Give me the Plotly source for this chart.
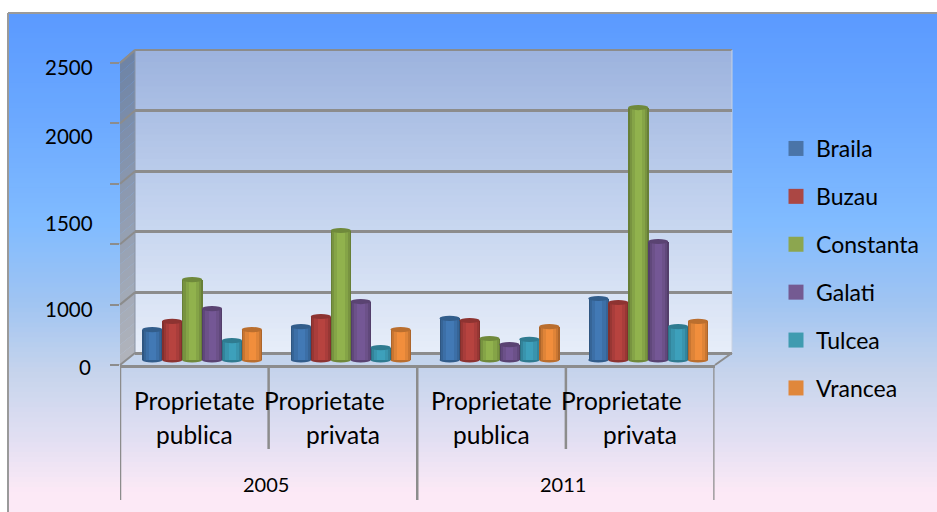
import plotly.graph_objects as go

W, H = 937, 512
years = ["2005", "2011"]
ownership = ["Proprietate publica", "Proprietate privata", "Proprietate publica", "Proprietate privata"]
series_names = ["Braila", "Buzau", "Constanta", "Galati", "Tulcea", "Vrancea"]
braila = [252, 277, 344, 509]
buzau = [319, 360, 327, 476]
constanta = [666, 1072, 178, 2090]
galati = [426, 484, 128, 981]
tulcea = [161, 103, 170, 277]
vrancea = [252, 252, 277, 319]
series_values = [braila, buzau, constanta, galati, tulcea, vrancea]
series_colors = ["#3f74ae", "#b0403d", "#8bab4a", "#70548f", "#3b9ab4", "#e8893a"]
legend_colors = ["#4a74a8", "#ab4744", "#8ca64f", "#745a92", "#3f9bb0", "#e0873b"]
value_ticks = [2500, 2000, 1500, 1000, 0]
FONT = "Lato, Carlito, Calibri, sans-serif"
INK = "#000000"
GREY = "#8c8c8c"


def X(p):
    return p / W


def Y(p):
    return 1 - p / H


def hex2rgb(c):
    return tuple(int(c[i:i + 2], 16) for i in (1, 3, 5))


def mix(stops, t):
    for (t0, c0), (t1, c1) in zip(stops, stops[1:]):
        if t <= t1:
            f = 0 if t1 == t0 else max(0, (t - t0) / (t1 - t0))
            a, b = hex2rgb(c0), hex2rgb(c1)
            return "rgb(%d,%d,%d)" % tuple(round(a[i] + (b[i] - a[i]) * f) for i in range(3))
    return stops[-1][1]


def shade(c, f):
    r = hex2rgb(c)
    return "rgb(%d,%d,%d)" % tuple(min(255, round(v * f)) for v in r)


def poly(pts, fill):
    d = "M" + " L".join("%.5f,%.5f" % (X(a), Y(b)) for a, b in pts) + " Z"
    return dict(type="path", path=d, xref="paper", yref="paper", fillcolor=fill,
                line=dict(width=0), layer="below")


def seg(x0, y0, x1, y1, color=GREY, width=2, layer="below"):
    return dict(type="line", xref="paper", yref="paper", x0=X(x0), y0=Y(y0), x1=X(x1), y1=Y(y1),
                line=dict(color=color, width=width), layer=layer)


shapes = []
# page background
bg = [(13, "#5b9aff"), (110, "#6aa8ff"), (220, "#80bbff"), (300, "#a0c4f2"), (370, "#c6d4ec"),
      (430, "#dfdef2"), (490, "#fce9f6"), (512, "#fce9f6")]
for i in range(100):
    a = 13 + (512 - 13) * i / 100
    b = 13 + (512 - 13) * (i + 1) / 100
    shapes.append(poly([(9, a), (W, a), (W, b + 1), (9, b + 1)], mix(bg, a)))
# back wall
wall = [(50, "#9db3de"), (200, "#c2d2ee"), (353, "#e8eef9")]
for i in range(50):
    a = 50 + 303 * i / 50
    b = 50 + 303 * (i + 1) / 50
    shapes.append(poly([(135, a), (732, a), (732, b + 1), (135, min(b + 1, 353))], mix(wall, a)))
# side wall
side = [(0, "#6f84a6"), (1, "#b2b5bc")]
for i in range(30):
    t0, t1 = i / 30, (i + 1) / 30
    shapes.append(poly([(120, 63 + 302 * t0), (135, 50 + 303 * t0), (135, 50 + 303 * t1),
                        (120, 63 + 302 * t1)], mix(side, t0)))
# floor
shapes.append(poly([(120, 365), (135, 353), (732, 353), (715, 365)], "#c4d4ec"))
shapes.append(seg(135, 50, 732, 50, width=2))
shapes.append(seg(120, 63, 135, 50, width=2))
shapes.append(seg(135, 50, 135, 353, color="#8a94a5", width=1))
shapes.append(seg(732, 50, 732, 353, color="#c8d2e2", width=1))
shapes.append(seg(715, 365, 732, 353, width=2))
for k in range(6):
    shapes.append(seg(120, 365 - 60.4 * k, 135, 353 - 60.6 * k, width=2))
# frame
shapes.append(seg(8, 13, W, 13, color="#9a9a9a", width=2))
shapes.append(seg(8, 13, 8, H, color="#9a9a9a", width=2))

# category dividers, on the front axis
for pos, low in [(-0.5, 500), (0.5, 449), (1.5, 500), (2.5, 449), (3.5, 500)]:
    shapes.append(dict(type="line", xref="x3", yref="paper", x0=pos, x1=pos, y0=Y(365), y1=Y(low),
                       line=dict(color=GREY, width=2.5), layer="above"))

fig = go.Figure()

# legend entries (they also hold the wall subplot)
for name, col in zip(series_names, legend_colors):
    fig.add_trace(go.Scatter(x=[None], y=[None], mode="markers", name=name, legendgroup=name,
                             marker=dict(symbol="square", size=15, color=col), xaxis="x", yaxis="y"))

# cylinders
STEP = 0.134
BAR = 0.136
levels = [(1.0, 0.74), (0.88, 0.86), (0.68, 0.96), (0.36, 1.04)]
Y_UNIT = 0.1208
ELL = 2.6 / Y_UNIT
x_groups = list(range(len(ownership)))
for s, (name, vals, col) in enumerate(zip(series_names, series_values, series_colors)):
    centre = (s - 2.5) * STEP
    for frac, f in levels:
        fig.add_trace(go.Bar(x=x_groups, y=vals, width=BAR * frac, offset=centre - BAR * frac / 2,
                             marker=dict(color=shade(col, f), line=dict(width=0)),
                             name=name, legendgroup=name, showlegend=False, hoverinfo="skip" if frac != 1.0 else None,
                             xaxis="x2", yaxis="y2"))
    for g, v in zip(x_groups, vals):
        xa, xb = g + centre - BAR / 2, g + centre + BAR / 2
        shapes.append(dict(type="circle", xref="x2", yref="y2", x0=xa, x1=xb, y0=-ELL, y1=ELL,
                           fillcolor=shade(col, 0.8), line=dict(width=0), layer="between"))
        shapes.append(dict(type="circle", xref="x2", yref="y2", x0=xa, x1=xb, y0=v - ELL, y1=v + ELL,
                           fillcolor=shade(col, 0.8), line=dict(width=0), layer="above"))

# front axis holder
fig.add_trace(go.Scatter(x=[None], y=[None], showlegend=False, hoverinfo="skip", xaxis="x3", yaxis="y3"))

annotations = []


def label(text, px, py, size=24.5, anchor="center"):
    annotations.append(dict(text=text, x=X(px), y=Y(py), xref="paper", yref="paper", showarrow=False,
                            xanchor=anchor, yanchor="middle", font=dict(family=FONT, size=size, color=INK)))


for v, py in zip(value_ticks, [67, 136, 223, 309, 367]):
    label(str(v), 95 if v else 93, py, size=20.5, anchor="right")
label("Proprietate", 194, 400)
label("publica", 194, 434)
label("Proprietate", 324, 400)
label("privata", 343, 434)
label("Proprietate", 491, 400)
label("publica", 491, 434)
label("Proprietate", 621, 400)
label("privata", 640, 434)
label(years[0], 266, 484, size=20)
label(years[1], 563, 484, size=20)

fig.update_layout(
    width=W, height=H, margin=dict(l=0, r=0, t=0, b=0), autosize=False,
    paper_bgcolor="white", plot_bgcolor="rgba(0,0,0,0)", barmode="overlay", bargap=0,
    shapes=shapes, annotations=annotations,
    legend=dict(x=X(776), xanchor="left", y=Y(127), yanchor="top", bgcolor="rgba(0,0,0,0)",
                tracegroupgap=15, font=dict(family=FONT, size=23, color=INK), itemclick=False, itemdoubleclick=False),
    xaxis=dict(domain=[X(135), X(732)], range=[0, 1], visible=False, fixedrange=True),
    yaxis=dict(domain=[Y(353), Y(50)], range=[0, 2500], dtick=500, showgrid=True, gridcolor=GREY, gridwidth=2.5,
               zeroline=True, zerolinecolor=GREY, zerolinewidth=2.5, showticklabels=False, ticks="", showline=False,
               fixedrange=True),
    xaxis2=dict(domain=[X(127.7), X(722.5)], range=[-0.5, 3.5], visible=False, anchor="y2", fixedrange=True),
    yaxis2=dict(domain=[Y(365), Y(59)], range=[-5 / Y_UNIT, 301 / Y_UNIT], visible=False, anchor="x2", fixedrange=True),
    xaxis3=dict(domain=[X(120), X(714.5)], range=[-0.5, 3.5], anchor="y3", showline=True, linecolor=GREY, linewidth=2.5,
                showgrid=False, zeroline=False, showticklabels=False, ticks="", fixedrange=True),
    yaxis3=dict(domain=[Y(365), Y(63)], range=[0, 2500], dtick=500, anchor="x3", ticks="outside", ticklen=9,
                tickwidth=2, tickcolor=GREY, showticklabels=False, showgrid=False, zeroline=False, showline=False,
                fixedrange=True),
)

fig.write_html("out.html", post_script="document.body.style.margin='0';", config=dict(displayModeBar=False))
